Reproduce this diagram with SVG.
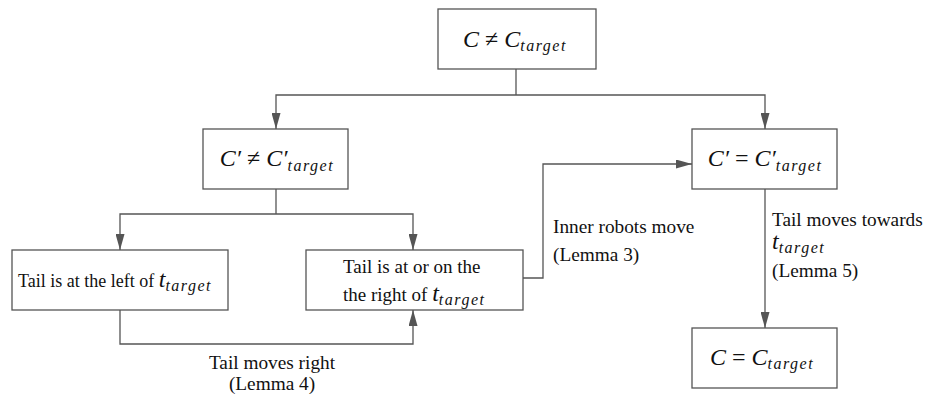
<svg xmlns="http://www.w3.org/2000/svg" width="925" height="395" viewBox="0 0 925 395">
<style>
.box{fill:#fff;stroke:#555;stroke-width:1.3}
.ln{fill:none;stroke:#555;stroke-width:1.3}
.t{font-family:"Liberation Serif","Times New Roman",serif;font-size:18px;fill:#111}
.l{font-family:"Liberation Serif","Times New Roman",serif;font-size:19.3px;fill:#111}
.m{font-family:"Liberation Serif","Times New Roman",serif;font-size:24px;fill:#111}
.i{font-style:italic}
.s{font-style:italic;font-size:16px;letter-spacing:1.5px}
</style>
<defs>
<marker id="ah" markerWidth="16" markerHeight="9" refX="16" refY="4.5" orient="auto" markerUnits="userSpaceOnUse">
<path d="M0,0 L16,4.5 L0,9 Z" fill="#555"/>
</marker>
</defs>
<rect width="925" height="395" fill="#fff"/>
<g id="connectors">
<path class="ln" d="M516,69 V95"/>
<path class="ln" d="M516,95 H276 V129" marker-end="url(#ah)"/>
<path class="ln" d="M516,95 H765 V129" marker-end="url(#ah)"/>
<path class="ln" d="M276,189 V214"/>
<path class="ln" d="M276,214 H120 V250" marker-end="url(#ah)"/>
<path class="ln" d="M276,214 H413 V250" marker-end="url(#ah)"/>
<path class="ln" d="M120,310 V344 H413 V310" marker-end="url(#ah)"/>
<path class="ln" d="M523,278 H543 V164 H692" marker-end="url(#ah)"/>
<path class="ln" d="M765,189 V328" marker-end="url(#ah)"/>
<text class="l" x="553" y="233">Inner robots move</text>
<text class="l" x="553" y="261">(Lemma 3)</text>
<text class="l" x="772" y="226">Tail moves towards</text>
<text class="m" x="772" y="249"><tspan class="i">t</tspan><tspan class="s" dy="4">target</tspan></text>
<text class="l" x="772" y="277">(Lemma 5)</text>
<text class="l" x="272" y="369" text-anchor="middle">Tail moves right</text>
<text class="l" x="272" y="390" text-anchor="middle">(Lemma 4)</text>
</g>
<g id="n-top">
<rect class="box" x="438" y="9" width="158" height="60"/>
<text class="m" x="515" y="47" text-anchor="middle"><tspan class="i">C</tspan> ≠ <tspan class="i">C</tspan><tspan class="s" dy="4">target</tspan></text>
</g>
<g id="n-left">
<rect class="box" x="203" y="129" width="145" height="60"/>
<text class="m" x="277" y="166" text-anchor="middle"><tspan class="i">C′</tspan> ≠ <tspan class="i">C′</tspan><tspan class="s" dy="5">target</tspan></text>
</g>
<g id="n-right">
<rect class="box" x="692" y="129" width="145" height="60"/>
<text class="m" x="765" y="166" text-anchor="middle"><tspan class="i">C′</tspan> = <tspan class="i">C′</tspan><tspan class="s" dy="5">target</tspan></text>
</g>
<g id="n-tail-left">
<rect class="box" x="12" y="250" width="216" height="60"/>
<text class="t" x="18" y="287">Tail is at the left of <tspan class="i" font-size="24px">t</tspan><tspan class="s" dy="4">target</tspan></text>
</g>
<g id="n-tail-right">
<rect class="box" x="306" y="250" width="217" height="60"/>
<text class="t" x="343" y="273" font-size="19px" style="font-size:19px">Tail is at or on the</text>
<text class="t" x="343" y="301" style="font-size:19px">the right of <tspan class="i" style="font-size:24px">t</tspan><tspan class="s" dy="4">target</tspan></text>
</g>
<g id="n-bottom">
<rect class="box" x="692" y="328" width="145" height="60"/>
<text class="m" x="762" y="365" text-anchor="middle"><tspan class="i">C</tspan> = <tspan class="i">C</tspan><tspan class="s" dy="4">target</tspan></text>
</g>
</svg>
